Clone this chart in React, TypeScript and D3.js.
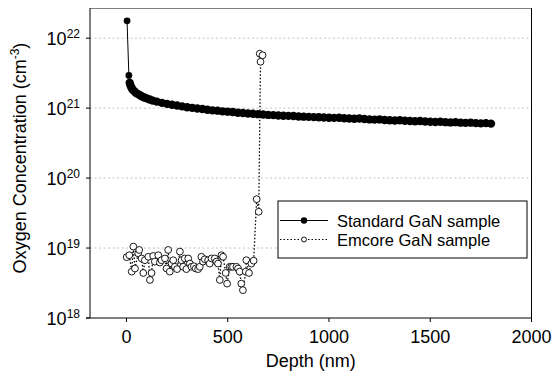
import * as d3 from 'd3';

// ==========================================
// DATA
// ==========================================
const standardDepth = [
  3, 12, 16, 20, 25, 30, 38, 46, 55, 65, 75, 88, 100, 115, 130, 150, 175, 200,
  225, 250, 275, 300, 325, 350, 375, 400, 425, 450, 475, 500, 525, 550, 575,
  600, 625, 650, 675, 700, 725, 750, 775, 800, 825, 850, 875, 900, 925, 950,
  975, 1000, 1025, 1050, 1075, 1100, 1125, 1150, 1175, 1200, 1225, 1250, 1275,
  1300, 1325, 1350, 1375, 1400, 1425, 1450, 1475, 1500, 1525, 1550, 1575, 1600,
  1625, 1650, 1675, 1700, 1725, 1750, 1775, 1800,
];
const standardConc = [
  1.77e22, 2.93e21, 2.3e21, 2.1e21, 1.95e21, 1.85e21, 1.75e21, 1.66e21, 1.6e21,
  1.54e21, 1.48e21, 1.42e21, 1.38e21, 1.33e21, 1.28e21, 1.24e21, 1.19e21,
  1.15e21, 1.12e21, 1.09e21, 1.06e21, 1.03e21, 1.01e21, 9.9e20, 9.7e20, 9.5e20,
  9.3e20, 9.2e20, 9.0e20, 8.9e20, 8.8e20, 8.6e20, 8.5e20, 8.4e20, 8.3e20,
  8.2e20, 8.1e20, 8.0e20, 7.95e20, 7.85e20, 7.8e20, 7.75e20, 7.7e20, 7.6e20,
  7.55e20, 7.5e20, 7.45e20, 7.4e20, 7.35e20, 7.3e20, 7.25e20, 7.3e20, 7.15e20,
  7.1e20, 7.05e20, 7.1e20, 7.0e20, 6.9e20, 6.85e20, 6.9e20, 6.75e20, 6.7e20,
  6.65e20, 6.7e20, 6.6e20, 6.55e20, 6.5e20, 6.55e20, 6.45e20, 6.4e20, 6.35e20,
  6.4e20, 6.3e20, 6.25e20, 6.3e20, 6.2e20, 6.15e20, 6.2e20, 6.1e20, 6.05e20,
  6.1e20, 6.0e20,
];

const emcoreDepth = [
  1, 14, 26, 34, 42, 58, 63, 75, 83, 91, 108, 116, 124, 132, 140, 157, 165,
  173, 190, 198, 206, 214, 223, 231, 239, 250, 264, 272, 280, 288, 296, 305,
  313, 321, 333, 342, 354, 362, 370, 378, 387, 403, 411, 420, 436, 444, 452,
  461, 469, 477, 490, 497, 510, 518, 526, 543, 551, 559, 567, 575, 589, 592,
  605, 617, 628, 643, 653, 662, 658, 672,
];
const emcoreConc = [
  7.4e18, 7.9e18, 4.6e18, 1.05e19, 5.1e18, 8.4e18, 9.4e18, 7.1e18, 4.4e18,
  6.7e18, 7.5e18, 3.5e18, 4.4e18, 7.7e18, 6.4e18, 7.9e18, 6.2e18, 6.7e18,
  7.1e18, 5.1e18, 9.4e18, 4.6e18, 6.0e18, 6.7e18, 5.4e18, 5.0e18, 8.9e18,
  6.7e18, 5.4e18, 7.1e18, 5.0e18, 7.1e18, 6.0e18, 5.4e18, 5.5e18, 5.1e18,
  5.0e18, 5.4e18, 7.5e18, 6.4e18, 6.9e18, 6.7e18, 6.0e18, 7.1e18, 7.1e18,
  6.4e18, 6.0e18, 3.5e18, 7.9e18, 7.5e18, 4.4e18, 3.1e18, 5.4e18, 5.4e18,
  5.4e18, 5.4e18, 5.1e18, 4.6e18, 3.1e18, 2.5e18, 4.6e18, 6.7e18, 4.4e18,
  6.0e18, 6.6e18, 5.0e19, 3.3e19, 4.6e21, 6.0e21, 5.7e21,
];

const xTicks = [0, 500, 1000, 1500, 2000];
const yTickExponents = [18, 19, 20, 21, 22];
const gridExponents = [19, 20, 21, 22];
const seriesNames = ['Standard GaN sample', 'Emcore GaN sample'];

// ==========================================
// LAYOUT
// ==========================================
const width = 554;
const height = 376;
const margin = { top: 8, right: 22.5, bottom: 58, left: 90 };
const font = 'Liberation Sans, Arial, Helvetica, sans-serif';

const App = () => {
  const x = d3
    .scaleLinear()
    .domain([-180, 2000])
    .range([margin.left, width - margin.right]);

  const y = d3
    .scaleLog()
    .domain([1e18, 2.7e22])
    .range([height - margin.bottom, margin.top]);

  const standard = standardDepth.map((d, i) => ({ d, c: standardConc[i] }));
  const emcore = emcoreDepth.map((d, i) => ({ d, c: emcoreConc[i] }));

  const line = d3
    .line<{ d: number; c: number }>()
    .x((p) => x(p.d))
    .y((p) => y(p.c));

  const x0 = margin.left;
  const x1 = width - margin.right;
  const y0 = height - margin.bottom;
  const y1 = margin.top;

  // legend box
  const lg = { x: 278, y: 201, w: 249, h: 57 };

  return (
    <svg
      width={width}
      height={height}
      style={{ position: 'absolute', left: 0, top: 0, background: '#fff' }}
      fontFamily={font}
    >
      {/* gridlines */}
      {gridExponents.map((e) => (
        <line
          key={e}
          x1={x0}
          x2={x1}
          y1={y(Math.pow(10, e))}
          y2={y(Math.pow(10, e))}
          stroke="#c4c4c4"
          strokeWidth={1}
          strokeDasharray="2,2.5"
        />
      ))}

      {/* frame */}
      <line x1={x0} x2={x1} y1={y1 + 0.5} y2={y1 + 0.5} stroke="#808080" />
      <line x1={x1} x2={x1} y1={y1} y2={y0} stroke="#000" />
      <line x1={x0} x2={x0} y1={y1} y2={y0} stroke="#000" />
      <line x1={x0 - 4} x2={x1} y1={y0} y2={y0} stroke="#000" />

      {/* x axis */}
      {xTicks.map((t) => (
        <g key={t}>
          <line x1={x(t)} x2={x(t)} y1={y0} y2={y0 + 4} stroke="#000" />
          <text x={x(t)} y={343} textAnchor="middle" fontSize={18}>
            {t}
          </text>
        </g>
      ))}
      <text x={(x0 + x1) / 2} y={367} textAnchor="middle" fontSize={18}>
        Depth (nm)
      </text>

      {/* y axis */}
      {yTickExponents.map((e) => (
        <g key={e}>
          <line
            x1={x0 - 4}
            x2={x0}
            y1={y(Math.pow(10, e))}
            y2={y(Math.pow(10, e))}
            stroke="#000"
          />
          <text
            x={80}
            y={y(Math.pow(10, e)) + 7}
            textAnchor="end"
            fontSize={18}
          >
            10
            <tspan dy={-7} fontSize={12}>
              {e}
            </tspan>
          </text>
        </g>
      ))}
      <text
        transform={`translate(26, 158) rotate(-90)`}
        textAnchor="middle"
        fontSize={18}
      >
        Oxygen Concentration (cm
        <tspan dy={-7} fontSize={12}>
          -3
        </tspan>
        <tspan dy={7}>)</tspan>
      </text>

      {/* emcore series */}
      <path
        d={line(emcore) ?? ''}
        fill="none"
        stroke="#000"
        strokeWidth={1.3}
        strokeDasharray="1.5,2"
      />
      {emcore.map((p, i) => (
        <circle
          key={i}
          cx={x(p.d)}
          cy={y(p.c)}
          r={3.4}
          fill="#fff"
          stroke="#000"
          strokeWidth={0.9}
        />
      ))}

      {/* standard series */}
      <path d={line(standard) ?? ''} fill="none" stroke="#000" strokeWidth={1} />
      {standard.map((p, i) => (
        <circle
          key={i}
          cx={x(p.d)}
          cy={y(p.c)}
          r={i < 2 ? 3.4 : 4.2}
          fill="#000"
        />
      ))}

      {/* legend */}
      <rect
        x={lg.x}
        y={lg.y}
        width={lg.w}
        height={lg.h}
        fill="#fff"
        stroke="#000"
        strokeWidth={1}
      />
      <line x1={280} x2={328} y1={220.5} y2={220.5} stroke="#000" />
      <circle cx={304} cy={220.5} r={3.2} fill="#000" />
      <text x={337} y={226.5} fontSize={16.5}>
        {seriesNames[0]}
      </text>
      <line
        x1={280}
        x2={328}
        y1={239.5}
        y2={239.5}
        stroke="#000"
        strokeDasharray="1.5,2"
      />
      <circle cx={304} cy={239.5} r={2.5} fill="#fff" stroke="#000" strokeWidth={0.9} />
      <text x={337} y={245.5} fontSize={16.5}>
        {seriesNames[1]}
      </text>
    </svg>
  );
};

export default App;
